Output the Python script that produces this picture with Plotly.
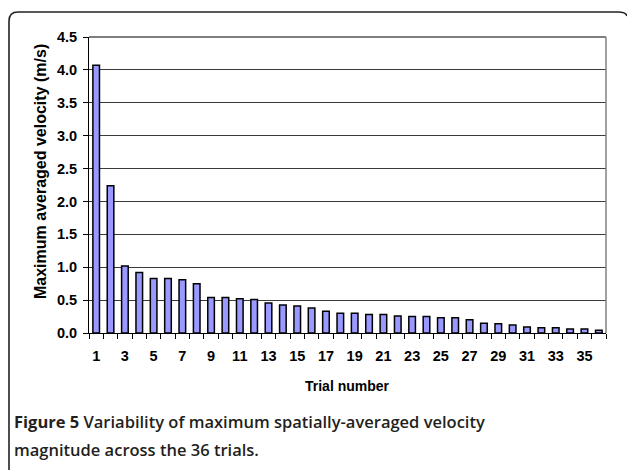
import plotly.graph_objects as go

trials = list(range(1, 37))
velocity = [4.07, 2.24, 1.02, 0.92, 0.83, 0.83, 0.81, 0.75, 0.54, 0.54,
            0.52, 0.51, 0.455, 0.425, 0.41, 0.38, 0.33, 0.30, 0.30, 0.28,
            0.28, 0.26, 0.25, 0.25, 0.23, 0.23, 0.20, 0.15, 0.14, 0.12,
            0.09, 0.08, 0.08, 0.06, 0.06, 0.04]
x_tick_labels = [str(v) for v in range(1, 37, 2)]
y_ticks = [0.0, 0.5, 1.0, 1.5, 2.0, 2.5, 3.0, 3.5, 4.0, 4.5]

W, H = 627, 470
L, R, T, B = 89, 606, 37, 333


def px(x):
    return (x - L) / (R - L)


def py(y):
    return (B - y) / (B - T)


fig = go.Figure()
fig.add_trace(go.Bar(
    x=trials, y=velocity, width=0.46,
    marker=dict(color="#9999FF", line=dict(color="black", width=1.5)),
    showlegend=False,
))

ARIAL = "Liberation Sans, Arial, sans-serif"
tickfont = dict(family=ARIAL, size=14.5, color="black", weight="bold")

fig.update_layout(
    width=W, height=H,
    margin=dict(l=L, r=W - R, t=T, b=H - B),
    paper_bgcolor="white", plot_bgcolor="white",
    xaxis=dict(
        range=[0.5, 36.5], tickmode="array", tickvals=list(range(1, 37, 2)),
        ticktext=x_tick_labels, ticks="", showgrid=False, zeroline=False,
        showline=True, linecolor="black", linewidth=1,
        tickfont=tickfont, ticklabelstandoff=10,
        minor=dict(tick0=0.5, dtick=1, ticks="outside", ticklen=5,
                   tickcolor="black", showgrid=False),
    ),
    yaxis=dict(
        range=[0, 4.5], tickmode="array", tickvals=y_ticks,
        ticktext=[f"{v:.1f}" for v in y_ticks], ticks="outside", ticklen=5,
        tickcolor="black", showgrid=True, gridcolor="#3a3a3a", gridwidth=1,
        zeroline=False, showline=True, linecolor="black", linewidth=1,
        tickfont=tickfont, ticklabelstandoff=3,
    ),
    bargap=0.5,
)

shapes = [
    dict(type="line", xref="paper", yref="paper", x0=0, x1=1, y0=1, y1=1,
         line=dict(color="#555555", width=1.5)),
    dict(type="line", xref="paper", yref="paper", x0=1, x1=1, y0=0, y1=1,
         line=dict(color="#808080", width=1.5)),
    dict(type="path", xref="paper", yref="paper",
         path=(f"M {px(9)},{py(480)} L {px(9)},{py(21)} "
               f"Q {px(9)},{py(12)} {px(18)},{py(12)} "
               f"L {px(618)},{py(12)} Q {px(626)},{py(12)} {px(627)},{py(16)}"),
         line=dict(color="#222222", width=1.6)),
]
fig.update_layout(shapes=shapes)

capfont = dict(family="Open Sans, sans-serif", size=16.5, color="#231f20", weight=600)
annotations = [
    dict(text="Trial number", x=px(347), y=py(386), xref="paper", yref="paper",
         showarrow=False, font=dict(family=ARIAL, size=14, color="black", weight="bold"),
         xanchor="center", yanchor="middle"),
    dict(text="Maximum averaged velocity (m/s)", x=px(41), y=py(172),
         xref="paper", yref="paper", showarrow=False, textangle=-90,
         font=dict(family=ARIAL, size=16, color="black", weight="bold"),
         xanchor="center", yanchor="middle"),
    dict(text="<b>Figure 5</b> Variability of maximum spatially-averaged velocity",
         x=px(12), y=py(421), xref="paper", yref="paper", showarrow=False,
         font=capfont, xanchor="left", yanchor="middle"),
    dict(text="magnitude across the 36 trials.",
         x=px(12), y=py(449), xref="paper", yref="paper", showarrow=False,
         font=capfont, xanchor="left", yanchor="middle"),
]
fig.update_layout(annotations=annotations)

fig.write_html(
    "out.html",
    config={"displayModeBar": False},
    post_script="document.body.style.margin='0';document.body.style.overflow='hidden';",
)
